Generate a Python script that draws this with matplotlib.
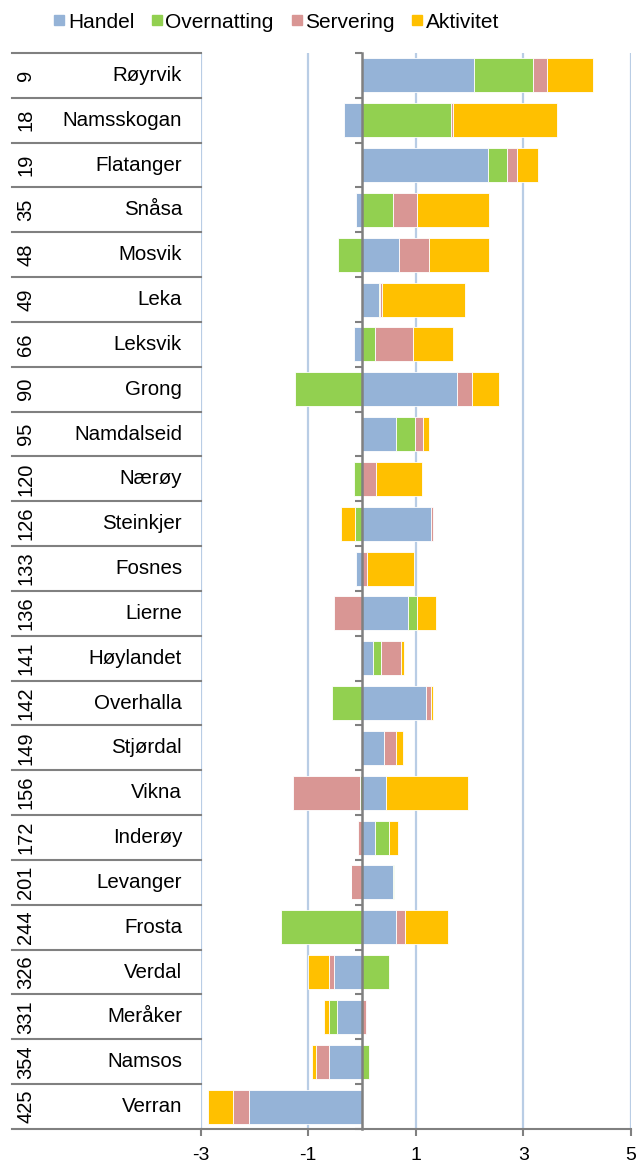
import matplotlib.pyplot as plt
import numpy as np
from matplotlib.lines import Line2D

plt.rcParams['font.family'] = ['Liberation Sans', 'DejaVu Sans']

ranks = [9, 18, 19, 35, 48, 49, 66, 90, 95, 120, 126, 133, 136, 141, 142, 149,
         156, 172, 201, 244, 326, 331, 354, 425]
names = ['Røyrvik', 'Namsskogan', 'Flatanger', 'Snåsa', 'Mosvik', 'Leka', 'Leksvik',
         'Grong', 'Namdalseid', 'Nærøy', 'Steinkjer', 'Fosnes', 'Lierne', 'Høylandet',
         'Overhalla', 'Stjørdal', 'Vikna', 'Inderøy', 'Levanger', 'Frosta', 'Verdal',
         'Meråker', 'Namsos', 'Verran']

handel = [2.08, -0.34, 2.34, -0.10, 0.69, 0.31, -0.14, 1.76, 0.64, 0.0, 1.29, -0.11,
          0.85, 0.20, 1.19, 0.41, 0.44, 0.25, 0.58, 0.64, -0.52, -0.46, -0.61, -2.09]
overnatting = [1.11, 1.65, 0.35, 0.57, -0.44, 0.02, 0.25, -1.24, 0.34, -0.15, -0.13, 0.0,
               0.17, 0.15, -0.56, 0.0, -0.035, 0.26, 0.01, -1.50, 0.50, -0.16, 0.13, 0.0]
servering = [0.25, 0.05, 0.19, 0.45, 0.56, 0.04, 0.71, 0.28, 0.16, 0.26, 0.03, 0.10,
             -0.52, 0.37, 0.09, 0.22, -1.25, -0.08, -0.20, 0.17, -0.10, 0.08, -0.24, -0.30]
aktivitet = [0.85, 1.93, 0.40, 1.34, 1.12, 1.55, 0.74, 0.51, 0.11, 0.86, -0.25, 0.87,
             0.35, 0.07, 0.05, 0.14, 1.54, 0.17, -0.01, 0.80, -0.38, -0.08, -0.07, -0.47]

series = ['Handel', 'Overnatting', 'Servering', 'Aktivitet']
colors = ['#95B3D7', '#92D050', '#D99694', '#FFC000']

fig = plt.figure(figsize=(6.37, 11.62), dpi=100)
ax = fig.add_axes([0.3148, 0.0284, 0.6754, 0.926])

y = np.arange(len(names))
pos = np.zeros(len(names))
neg = np.zeros(len(names))
for vals, c in zip([handel, overnatting, servering, aktivitet], colors):
    v = np.array(vals)
    left = np.where(v >= 0, pos, neg)
    ax.barh(y, v, left=left, height=0.76, color=c, edgecolor='white', linewidth=0.6, zorder=3)
    pos = pos + np.where(v >= 0, v, 0)
    neg = neg + np.where(v < 0, v, 0)

ax.set_xlim(-3, 5)
ax.set_ylim(len(names) - 0.5, -0.5)
ax.set_xticks([-3, -1, 1, 3, 5])
ax.set_xticklabels(['-3', '-1', '1', '3', '5'], fontsize=14)
ax.grid(axis='x', color='#B9CDE5', linewidth=1.6, zorder=0)
ax.tick_params(axis='x', length=5, width=1.5, color='#808080', pad=8)

# y axis at zero with ticks at row borders
ax.spines['left'].set_position(('data', 0))
ax.spines['left'].set_color('#808080')
ax.spines['left'].set_linewidth(1.8)
ax.spines['left'].set_zorder(4)
ax.spines['bottom'].set_color('#808080')
ax.spines['bottom'].set_linewidth(1.5)
ax.spines['top'].set_visible(False)
ax.spines['right'].set_visible(False)
ax.set_yticks(np.arange(-0.5, len(names), 1.0))
ax.set_yticklabels([])
ax.tick_params(axis='y', length=5, width=1.5, color='#808080')

# table on the left
tr = ax.get_yaxis_transform()
for b in np.arange(-0.5, len(names) + 0.5, 1.0):
    ax.plot([-0.438, 0.0], [b, b], transform=tr, color='#808080', lw=1.5, clip_on=False)
for i in range(len(names)):
    ax.text(-0.043, y[i], names[i], transform=tr, ha='right', va='center', fontsize=14.8)
    ax.text(-0.406, y[i], str(ranks[i]), transform=tr, ha='center', va='center',
            fontsize=14.5, rotation=90)

handles = [Line2D([], [], marker='s', linestyle='', color=c, markersize=7.5) for c in colors]
fig.legend(handles, series, loc='center', bbox_to_anchor=(0.432, 0.981), ncol=4,
           frameon=False, fontsize=15, handletextpad=0.0, columnspacing=0.7,
           handlelength=0.8, borderpad=0)

fig.savefig('out.png', dpi=100)
